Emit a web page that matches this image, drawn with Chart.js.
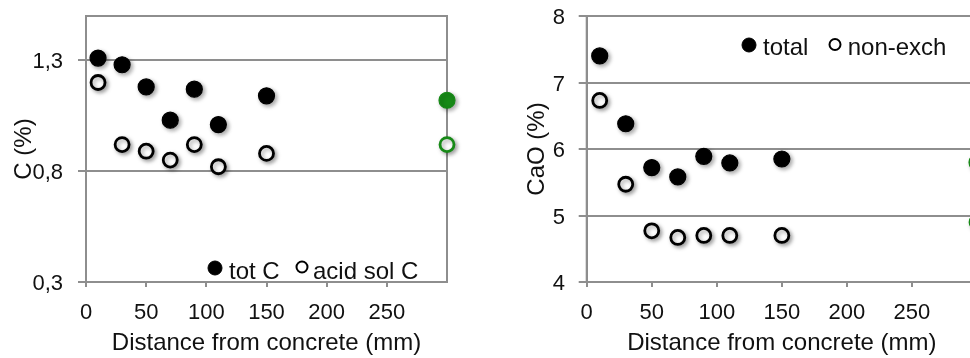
<!DOCTYPE html>
<html>
<head>
<meta charset="utf-8">
<script src="https://cdn.jsdelivr.net/npm/chart.js@4/dist/chart.umd.min.js"></script>
<style>
  html, body { margin: 0; padding: 0; background: #fff; overflow: hidden; width: 970px; height: 358px; position: relative; }
  canvas { position: absolute; top: 0; }
  #carbon { left: 0; }
  #lime { left: 513px; }
</style>
</head>
<body>
<canvas id="carbon" width="485" height="358"></canvas>
<canvas id="lime" width="500" height="358"></canvas>
<script>
// Sampling distances from the concrete surface (mm)
const distance = [10, 30, 50, 70, 90, 110, 150];
const refDistance = [300];

// Carbon content (%)
const totC = [1.31, 1.28, 1.18, 1.03, 1.17, 1.01, 1.14];
const acidSolC = [1.20, 0.92, 0.89, 0.85, 0.92, 0.82, 0.88];
const refTotC = [1.12];
const refAcidSolC = [0.92];

// CaO content (%)
const caoTotal = [7.40, 6.38, 5.72, 5.58, 5.89, 5.79, 5.85];
const caoNonExch = [6.73, 5.47, 4.77, 4.67, 4.70, 4.70, 4.70];
const refCaoTotal = [5.80];
const refCaoNonExch = [4.90];

// Axis tick labels
const xTicks = [0, 50, 100, 150, 200, 250];
const carbonTicks = [0.3, 0.8, 1.3];
const limeTicks = [4, 5, 6, 7, 8];

const GRID = '#8e8e8e';
const INK = '#111';
const GREEN = '#178a17';
const FONT = '"Liberation Sans", Arial, Helvetica, sans-serif';

Chart.defaults.font.family = FONT;
Chart.defaults.font.size = 22;
Chart.defaults.color = INK;

const pts = (xs, ys) => xs.map((x, i) => ({ x, y: ys[i] }));

const filled = (label, data, color) => ({
  label, data, clip: false,
  pointRadius: 8, pointHoverRadius: 8,
  backgroundColor: color, borderColor: color, borderWidth: 1.2
});
const hollow = (label, data, color) => ({
  label, data, clip: false,
  pointRadius: 7, pointHoverRadius: 7,
  backgroundColor: '#fff', borderColor: color, borderWidth: 2.8
});

// Plot frame (top and right edges of the plot box)
const frame = {
  id: 'frame',
  beforeDatasetsDraw(chart) {
    const { ctx, chartArea: a } = chart;
    ctx.save();
    ctx.strokeStyle = GRID;
    ctx.lineWidth = 2;
    ctx.strokeRect(a.left, a.top, a.right - a.left, a.bottom - a.top);
    ctx.restore();
  }
};

// Soft drop shadow under the markers
const softShadow = {
  id: 'softShadow',
  beforeDatasetsDraw(chart) {
    const c = chart.ctx;
    c.save();
    c.shadowColor = 'rgba(0,0,0,0.35)';
    c.shadowBlur = 4;
    c.shadowOffsetX = 2;
    c.shadowOffsetY = 2;
  },
  afterDatasetsDraw(chart) { chart.ctx.restore(); }
};

// Legend drawn inside the plot area
const insideLegend = {
  id: 'insideLegend',
  afterDraw(chart, args, opts) {
    const { ctx, chartArea: a } = chart;
    ctx.save();
    ctx.font = '24px ' + FONT;
    ctx.textBaseline = 'alphabetic';
    ctx.textAlign = 'left';
    opts.items.forEach(it => {
      const ds = chart.data.datasets[it.ds];
      const cx = a.left + it.cx, cy = a.top + it.cy;
      ctx.beginPath();
      ctx.arc(cx, cy, it.r, 0, Math.PI * 2);
      ctx.fillStyle = ds.backgroundColor;
      ctx.fill();
      ctx.lineWidth = it.lw;
      ctx.strokeStyle = ds.borderColor;
      ctx.stroke();
      ctx.fillStyle = INK;
      ctx.fillText(ds.label, cx + it.tx, cy + it.by);
    });
    ctx.restore();
  }
};

function makeChart(canvas, cfg) {
  return new Chart(canvas, {
    type: 'scatter',
    data: { datasets: cfg.datasets },
    plugins: [frame, softShadow, insideLegend],
    options: {
      responsive: false,
      animation: false,
      devicePixelRatio: 1,
      events: [],
      layout: { padding: { left: 0, top: 16, right: cfg.padRight, bottom: 0 } },
      plugins: {
        legend: { display: false },
        tooltip: { enabled: false },
        insideLegend: { items: cfg.legend }
      },
      scales: {
        x: {
          type: 'linear', min: 0, max: 300,
          afterBuildTicks: s => { s.ticks = xTicks.map(v => ({ value: v })); },
          afterFit: s => { s.height = 76; s.paddingLeft = 0; s.paddingRight = 0; },
          grid: { drawOnChartArea: false, drawTicks: true, tickLength: 5, color: GRID, lineWidth: 2 },
          border: { display: true, color: GRID, width: 2 },
          ticks: { padding: 13, color: INK, callback: v => String(v) },
          title: {
            display: true, text: 'Distance from concrete (mm)', color: INK,
            font: { size: 24 }, padding: { top: 0, bottom: 0 }
          }
        },
        y: {
          type: 'linear', min: cfg.yMin, max: cfg.yMax,
          afterBuildTicks: s => { s.ticks = cfg.yTicks.map(v => ({ value: v })); },
          afterFit: s => { s.width = cfg.axisWidth; s.paddingTop = 0; s.paddingBottom = 0; },
          grid: { drawTicks: true, tickLength: 8, color: GRID, lineWidth: 2 },
          border: { display: true, color: GRID, width: 2 },
          ticks: { padding: cfg.tickPad, labelOffset: 2, color: INK, callback: cfg.fmt },
          title: {
            display: true, text: cfg.yTitle, color: INK,
            font: { size: 24 }, padding: { top: 9.6, bottom: 0 }
          }
        }
      }
    }
  });
}

makeChart(document.getElementById('carbon'), {
  datasets: [
    filled('tot C', pts(distance, totC), '#000'),
    hollow('acid sol C', pts(distance, acidSolC), '#000'),
    filled('tot C, reference', pts(refDistance, refTotC), GREEN),
    hollow('acid sol C, reference', pts(refDistance, refAcidSolC), GREEN)
  ],
  yMin: 0.3, yMax: 1.5, yTicks: carbonTicks,
  fmt: v => v.toFixed(1).replace('.', ','),
  yTitle: 'C (%)',
  axisWidth: 86, padRight: 38, tickPad: 15,
  legend: [
    { ds: 0, cx: 129, cy: 252, r: 7, lw: 1, tx: 14, by: 11 },
    { ds: 1, cx: 216, cy: 251, r: 5.5, lw: 2, tx: 11, by: 12 }
  ]
});

makeChart(document.getElementById('lime'), {
  datasets: [
    filled('total', pts(distance, caoTotal), '#000'),
    hollow('non-exch', pts(distance, caoNonExch), '#000'),
    filled('total, reference', pts(refDistance, refCaoTotal), GREEN),
    hollow('non-exch, reference', pts(refDistance, refCaoNonExch), GREEN)
  ],
  yMin: 4, yMax: 8, yTicks: limeTicks,
  fmt: v => String(v),
  yTitle: 'CaO (%)',
  axisWidth: 73.7, padRight: 36, tickPad: 13.7,
  legend: [
    { ds: 0, cx: 162.3, cy: 29, r: 7, lw: 1, tx: 14, by: 10 },
    { ds: 1, cx: 248.3, cy: 28.5, r: 5.5, lw: 2, tx: 12.7, by: 10.5 }
  ]
});
</script>
</body>
</html>
